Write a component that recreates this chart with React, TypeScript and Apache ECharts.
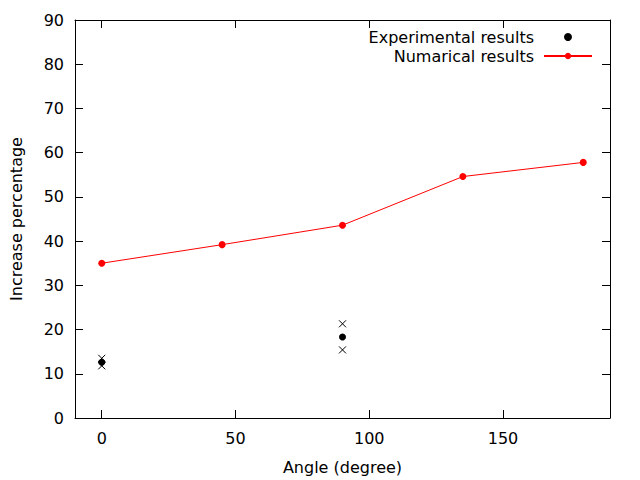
import React, { useEffect, useRef } from "react";
import * as echarts from "echarts";

const angles = [0, 45, 90, 135, 180];
const numerical = [35.0, 39.2, 43.6, 54.6, 57.8];
const expAngles = [0, 90];
const experimental = [12.6, 18.3];
const expUpper = [13.5, 21.3];
const expLower = [11.8, 15.4];
const xTicks = [0, 50, 100, 150];

const FONT = "DejaVu Sans";
const CROSS = "path://M0,0L10,10M10,0L0,10";

export default function App() {
  const ref = useRef<HTMLDivElement>(null);
  useEffect(() => {
    if (!ref.current) return;
    const chart = echarts.init(ref.current, undefined, { renderer: "svg" });
    const crossData: number[][] = [];
    expAngles.forEach((a, i) => {
      crossData.push([a, expUpper[i]]);
      crossData.push([a, expLower[i]]);
    });
    const axisCommon = {
      type: "value" as const,
      axisLine: { show: true, onZero: false, lineStyle: { color: "#000", width: 1 } },
      axisTick: { show: true, inside: true, length: 8, lineStyle: { color: "#000", width: 1 } },
      splitLine: { show: false },
    };
    chart.setOption({
      animation: false,
      backgroundColor: "#fff",
      textStyle: { fontFamily: FONT },
      grid: { left: 74, right: 30, top: 20, bottom: 61, containLabel: false },
      legend: {
        orient: "vertical",
        align: "right",
        right: 42,
        top: 24,
        itemWidth: 48,
        itemHeight: 8,
        itemGap: 3,
        textStyle: { fontFamily: FONT, fontSize: 16, color: "#000", padding: [0, 5, 0, 0] },
        data: ["Experimental results", "Numarical results"],
      },
      xAxis: [
        {
          ...axisCommon,
          position: "bottom",
          min: -10,
          max: 190,
          name: "Angle (degree)",
          nameLocation: "middle",
          nameGap: 41,
          nameTextStyle: { fontFamily: FONT, fontSize: 16, color: "#000" },
          axisTick: { ...axisCommon.axisTick, customValues: xTicks },
          axisLabel: { customValues: xTicks, margin: 12, fontFamily: FONT, fontSize: 16, color: "#000" },
        },
        {
          ...axisCommon,
          position: "top",
          min: -10,
          max: 190,
          axisTick: { ...axisCommon.axisTick, customValues: xTicks },
          axisLabel: { show: false },
        },
      ],
      yAxis: [
        {
          ...axisCommon,
          position: "left",
          min: 0,
          max: 90,
          interval: 10,
          name: "Increase percentage",
          nameLocation: "middle",
          nameGap: 51,
          nameTextStyle: { fontFamily: FONT, fontSize: 16, color: "#000" },
          axisLabel: { margin: 11, fontFamily: FONT, fontSize: 16, color: "#000" },
        },
        {
          ...axisCommon,
          position: "right",
          min: 0,
          max: 90,
          interval: 10,
          axisLabel: { show: false },
        },
      ],
      series: [
        {
          name: "Experimental results",
          type: "scatter",
          symbol: "circle",
          symbolSize: 7,
          itemStyle: { color: "#000", opacity: 1 },
          data: expAngles.map((a, i) => [a, experimental[i]]),
          z: 3,
        },
        {
          name: "Experimental range",
          type: "scatter",
          symbol: CROSS,
          symbolSize: 7,
          itemStyle: { color: "none", borderColor: "#000", borderWidth: 1, opacity: 1 },
          data: crossData,
          z: 3,
        },
        {
          name: "Numarical results",
          type: "line",
          symbol: "circle",
          symbolSize: 7,
          showAllSymbol: true,
          lineStyle: { color: "#ff0000", width: 1 },
          itemStyle: { color: "#ff0000" },
          data: angles.map((a, i) => [a, numerical[i]]),
          z: 4,
        },
      ],
    });
    return () => chart.dispose();
  }, []);
  return (
    <div
      ref={ref}
      style={{ position: "fixed", left: 0, top: 0, width: 640, height: 480, background: "#fff" }}
    />
  );
}
